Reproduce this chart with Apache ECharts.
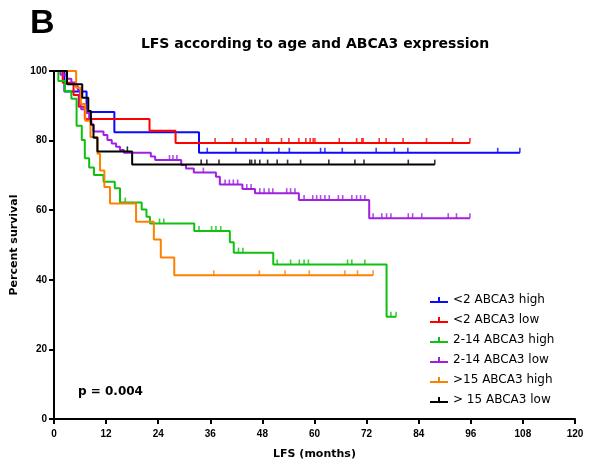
<!DOCTYPE html>
<html>
<head>
<meta charset="utf-8">
<script src="https://cdn.jsdelivr.net/npm/echarts@6/dist/echarts.min.js"></script>
<style>
  html, body { margin: 0; padding: 0; background: #fff; }
  #chart { width: 591px; height: 465px; }
</style>
</head>
<body>
<div id="chart"></div>
<script>
// survival curves: event times (months) and survival (%)
const xTicks = [0, 12, 24, 36, 48, 60, 72, 84, 96, 108, 120]
const yTicks = [0, 20, 40, 60, 80, 100]

const blueTimes = [0, 2.4, 7.5, 13.9, 33.4, 107.3]
const blueSurv = [100, 94.1, 88.2, 82.4, 76.5, 76.5]
const blueCens = [35.3, 41.9, 48.0, 51.8, 54.2, 61.4, 62.4, 66.4, 74.2, 78.4, 81.5, 102.2, 107.3]

const redTimes = [0, 2.0, 4.5, 5.7, 7.1, 22.0, 28.0, 95.8]
const redSurv = [100, 96.6, 93.1, 89.7, 86.2, 82.8, 79.3, 79.3]
const redCens = [37.1, 41.1, 44.2, 46.5, 49.0, 49.4, 52.4, 54.1, 56.4, 58.0, 59.0, 59.7, 60.1, 65.7, 69.7, 70.9, 71.2, 74.9, 76.5, 80.4, 85.8, 91.8, 95.8]

const greenTimes = [0, 1.0, 2.5, 4.0, 5.2, 6.4, 7.1, 8.1, 9.2, 11.4, 14.0, 15.2, 20.2, 21.3, 22.1, 32.3, 40.5, 41.4, 50.5, 76.6, 78.8]
const greenSurv = [100, 97.1, 94.2, 92.0, 84.3, 80.2, 74.9, 72.3, 70.1, 68.2, 66.3, 62.2, 60.2, 58.1, 56.2, 54.0, 50.8, 47.8, 44.4, 29.4, 29.4]
const greenCens = [16.4, 24.3, 25.3, 33.4, 36.3, 37.3, 38.4, 42.5, 43.5, 51.4, 54.5, 56.5, 57.6, 58.6, 67.6, 68.6, 71.6, 77.6, 78.8]

const purpleTimes = [0, 1.5, 3.0, 4.0, 5.0, 5.5, 6.0, 6.3, 7.4, 8.1, 8.6, 9.1, 11.4, 12.3, 13.3, 14.3, 15.2, 16.1, 22.3, 23.3, 29.3, 30.4, 32.2, 37.3, 38.2, 43.4, 46.3, 56.4, 72.6, 95.8]
const purpleSurv = [100, 98.9, 97.8, 96.7, 95.6, 94.5, 91.2, 89.0, 87.9, 86.4, 84.5, 82.6, 81.6, 80.2, 79.2, 78.2, 77.3, 76.5, 75.4, 74.4, 73.0, 72.0, 70.8, 69.6, 67.4, 66.1, 64.9, 62.9, 57.7, 57.7]
const purpleCens = [26.6, 27.4, 28.3, 34.4, 39.4, 40.4, 41.3, 42.3, 44.4, 45.4, 47.4, 48.4, 49.5, 50.4, 53.6, 54.5, 55.5, 57.6, 59.6, 60.5, 61.4, 62.4, 63.4, 65.5, 66.5, 68.6, 69.7, 70.6, 71.6, 73.5, 75.5, 76.6, 77.6, 81.6, 82.6, 84.7, 90.8, 92.7, 95.8]

const orangeTimes = [0, 5.1, 6.2, 7.2, 8.4, 10.0, 10.6, 11.6, 12.9, 18.9, 23.0, 24.6, 27.7, 73.5]
const orangeSurv = [100, 95.2, 90.5, 85.7, 81.0, 76.2, 71.4, 66.7, 61.9, 56.7, 51.6, 46.4, 41.3, 41.3]
const orangeCens = [36.8, 47.3, 53.2, 58.8, 67.0, 69.9, 73.5]

const blackTimes = [0, 3.0, 6.5, 7.9, 8.5, 9.1, 10.0, 18.0, 87.7]
const blackSurv = [100, 96.2, 92.3, 88.5, 84.6, 80.8, 76.9, 73.1, 73.1]
const blackCens = [16.9, 33.9, 35.2, 38.0, 45.1, 45.5, 46.3, 47.4, 49.2, 51.4, 53.8, 56.8, 63.3, 69.3, 71.4, 81.6, 87.7]

const groups = [
    { name: '<2 ABCA3 high', color: '#0a0aff', t: blueTimes, s: blueSurv, c: blueCens },
    { name: '<2 ABCA3 low', color: '#ff0000', t: redTimes, s: redSurv, c: redCens },
    { name: '2-14 ABCA3 high', color: '#10c010', t: greenTimes, s: greenSurv, c: greenCens },
    { name: '2-14 ABCA3 low', color: '#a020e0', t: purpleTimes, s: purpleSurv, c: purpleCens },
    { name: '>15 ABCA3 high', color: '#ff8000', t: orangeTimes, s: orangeSurv, c: orangeCens },
    { name: '> 15 ABCA3 low', color: '#000000', t: blackTimes, s: blackSurv, c: blackCens }
]

// survival at time t from the step curve
function survAt(times, surv, t) {
    let v = surv[0]
    for (let i = 0; i < times.length; i++) {
        if (times[i] <= t + 1e-9) v = surv[i]
    }
    return v
}

const legendIcon = 'path://M0,6h18v2h-18z M8,2h2v4h-2z'

const series = []
groups.forEach(g => {
    series.push({
        name: g.name,
        type: 'line',
        step: 'end',
        showSymbol: false,
        symbol: 'none',
        lineStyle: { color: g.color, width: 2 },
        itemStyle: { color: g.color },
        data: g.t.map((t, i) => [t, g.s[i]])
    })
    series.push({
        name: g.name,
        type: 'scatter',
        symbol: 'rect',
        symbolSize: [1.6, 5],
        symbolOffset: [0, -2.5],
        itemStyle: { color: g.color },
        data: g.c.map(t => [t, survAt(g.t, g.s, t)])
    })
})

const axisFont = { fontFamily: 'Liberation Sans', fontWeight: 'bold', fontSize: 10, color: '#000' }

const option = {
    animation: false,
    backgroundColor: '#fff',
    grid: { left: 54, right: 16, top: 71, bottom: 46 },
    legend: {
        orient: 'vertical',
        left: 425,
        top: 289,
        itemWidth: 18,
        itemHeight: 8,
        itemGap: 8,
        textStyle: { fontFamily: 'DejaVu Sans', fontSize: 12, color: '#000' },
        data: groups.map(g => ({ name: g.name, icon: legendIcon, itemStyle: { color: g.color } }))
    },
    xAxis: {
        type: 'value',
        min: 0,
        max: 120,
        interval: 12,
        name: 'LFS (months)',
        nameLocation: 'middle',
        nameGap: 30,
        nameTextStyle: { fontFamily: 'DejaVu Sans', fontWeight: 'bold', fontSize: 11, color: '#000' },
        axisLine: { lineStyle: { color: '#000', width: 2 } },
        axisTick: { length: 5, lineStyle: { color: '#000', width: 2 } },
        axisLabel: Object.assign({ margin: 10, formatter: v => xTicks.includes(v) ? v : '' }, axisFont),
        splitLine: { show: false }
    },
    yAxis: {
        type: 'value',
        min: 0,
        max: 100,
        interval: 20,
        name: 'Percent survival',
        nameLocation: 'middle',
        nameRotate: 90,
        nameGap: 31,
        nameTextStyle: { fontFamily: 'DejaVu Sans', fontWeight: 'bold', fontSize: 11, color: '#000' },
        axisLine: { show: true, lineStyle: { color: '#000', width: 2 } },
        axisTick: { show: true, length: 5, lineStyle: { color: '#000', width: 2 } },
        axisLabel: Object.assign({ margin: 7, formatter: v => yTicks.includes(v) ? v : '' }, axisFont),
        splitLine: { show: false }
    },
    graphic: [
        {
            type: 'text', left: 30, top: 7,
            style: { text: 'B', font: 'bold 34px "Liberation Sans"', fill: '#000' }
        },
        {
            type: 'text', x: 315, y: 37,
            style: { text: 'LFS according to age and ABCA3 expression', font: 'bold 14px "DejaVu Sans"', fill: '#000', align: 'center' }
        },
        {
            type: 'text', x: 78, y: 386,
            style: { text: 'p = 0.004', font: 'bold 12px "DejaVu Sans"', fill: '#000' }
        }
    ],
    series: series
}

const chart = echarts.init(document.getElementById('chart'))
chart.setOption(option)
</script>
</body>
</html>
